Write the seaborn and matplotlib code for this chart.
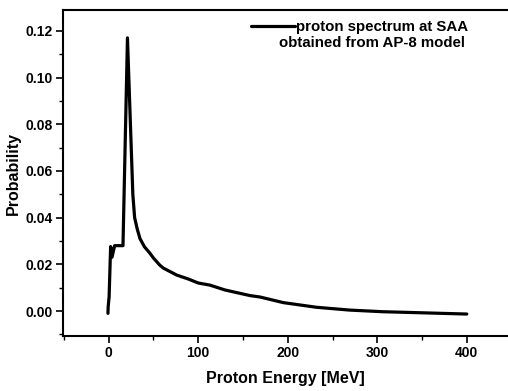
import matplotlib
matplotlib.use("Agg")
import matplotlib.pyplot as plt
import seaborn as sns
import pandas as pd
from matplotlib.ticker import MultipleLocator

energy = [-0.8, -0.5, 0.5, 2.2, 3.7, 6.7, 16, 21, 27, 29, 32, 35, 40, 46, 50, 57, 61, 76, 89,
          100, 113, 130, 158, 169, 195, 232, 269, 306, 344, 400]
prob = [-0.001, 0.002, 0.006, 0.0276, 0.023, 0.028, 0.028, 0.117, 0.050, 0.040, 0.035, 0.031,
        0.0275, 0.0248, 0.0227, 0.0197, 0.0184, 0.0154, 0.0137, 0.0120, 0.0111, 0.009, 0.0066,
        0.0060, 0.0036, 0.0016, 0.0004, -0.0003, -0.0007, -0.0013]
legend_line1 = "proton spectrum at SAA"
legend_line2 = "obtained from AP-8 model"

sns.set_style("ticks")
plt.rcParams['font.family'] = ['Liberation Sans', 'DejaVu Sans']
plt.rcParams['font.weight'] = 'bold'
plt.rcParams['text.color'] = 'black'
plt.rcParams['axes.labelcolor'] = 'black'
plt.rcParams['xtick.color'] = 'black'
plt.rcParams['ytick.color'] = 'black'

df = pd.DataFrame({"energy": energy, "prob": prob, "series": legend_line1})

fig = plt.figure(figsize=(5.08, 3.91), dpi=100)
ax = fig.add_axes([0.124, 0.1407, 0.876, 0.834])
sns.lineplot(data=df, x="energy", y="prob", hue="series", palette=["black"],
             linewidth=2.3, ax=ax, sort=False, estimator=None)

ax.set_xlim(-51, 446)
ax.set_ylim(-0.0107, 0.129)
ax.set_xticks([0, 100, 200, 300, 400])
ax.set_yticks([0.00, 0.02, 0.04, 0.06, 0.08, 0.10, 0.12])
ax.set_yticklabels(["0.00", "0.02", "0.04", "0.06", "0.08", "0.10", "0.12"])
ax.xaxis.set_minor_locator(MultipleLocator(50))
ax.yaxis.set_minor_locator(MultipleLocator(0.01))
ax.tick_params(which='major', direction='out', length=5, width=1.2, labelsize=10,
               colors='black', pad=2.5)
ax.tick_params(which='minor', direction='out', length=3, width=1.0, colors='black')
for lab in ax.get_xticklabels() + ax.get_yticklabels():
    lab.set_fontweight('bold')

for s in ['left', 'bottom', 'top']:
    ax.spines[s].set_linewidth(1.5)
    ax.spines[s].set_color('black')
ax.spines['right'].set_visible(False)

ax.set_xlabel("Proton Energy [MeV]", fontsize=11.5, fontweight='bold', color='black')
ax.set_ylabel("Probability", fontsize=11.5, fontweight='bold', color='black')
ax.xaxis.set_label_coords((285 - 63) / 445, -(379 - 336) / 326)
ax.yaxis.set_label_coords((13 - 63) / 445, (336 - 174) / 326)
ax.xaxis.label.set_va('center')
ax.yaxis.label.set_va('center')

leg = ax.legend(loc='center left', frameon=False, fontsize=10.8, handlelength=2.9,
                handletextpad=0.08, borderpad=0, borderaxespad=0,
                bbox_to_anchor=(251 / 508, 1 - 27 / 391), bbox_transform=fig.transFigure)
for t in leg.get_texts():
    t.set_fontweight('bold')
    t.set_color('black')
fig.text(372 / 508, 1 - 43 / 391, legend_line2, fontsize=10.8, fontweight='bold',
         ha='center', va='center', color='black')

fig.savefig("out.png", dpi=100)
